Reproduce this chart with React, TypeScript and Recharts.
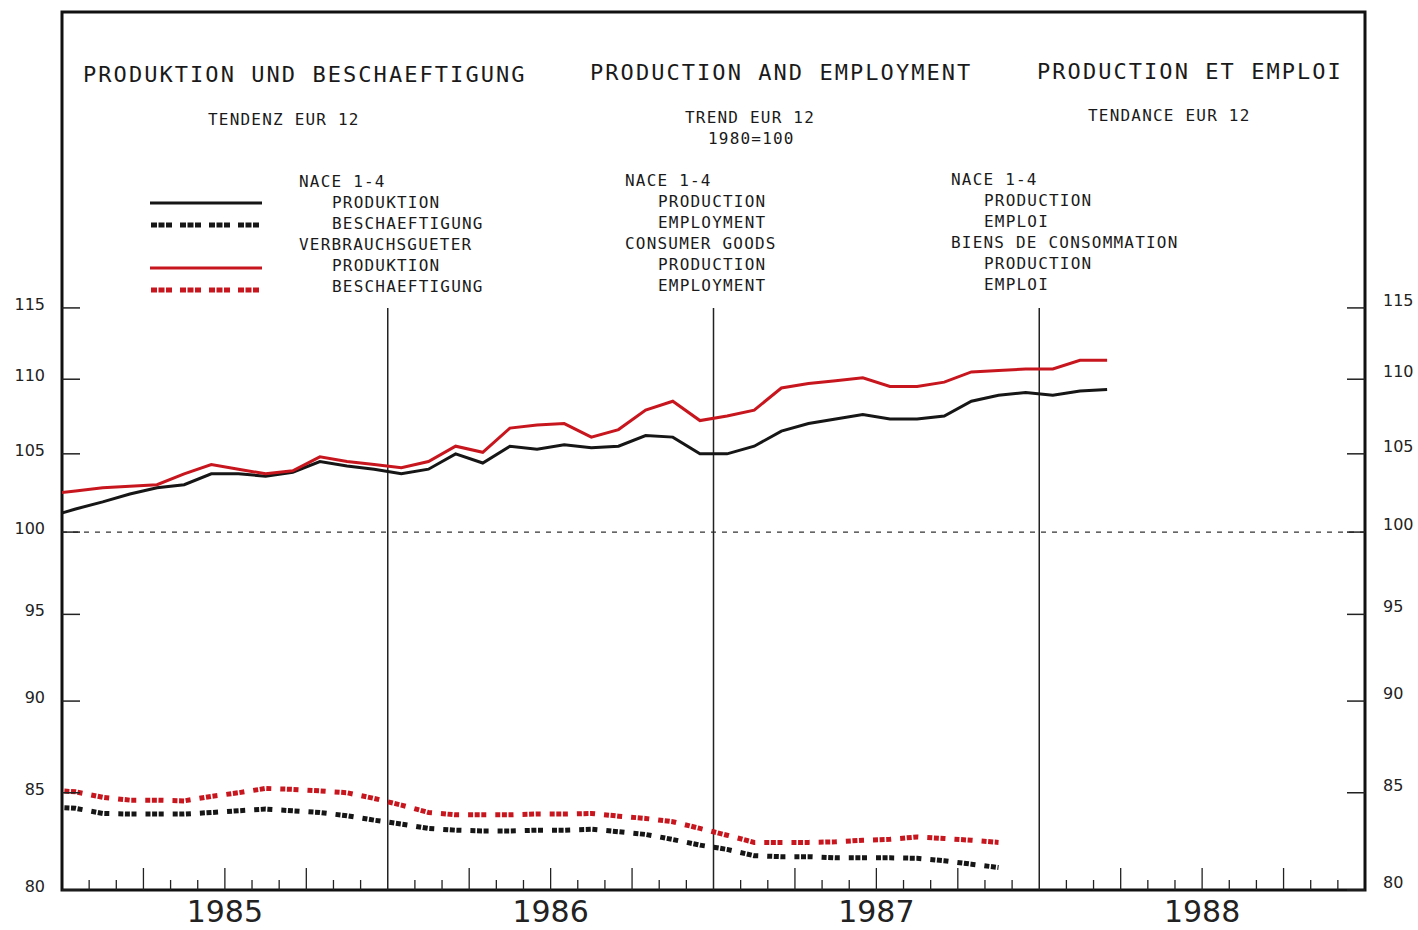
import React from 'react'
import {
  LineChart,
  Line,
  XAxis,
  YAxis,
  ReferenceLine,
  ReferenceArea,
} from 'recharts'

// tick labels
const years = ['1985', '1986', '1987', '1988']
const yearBreaks = [12, 24, 36]
const yTicks = [80, 85, 90, 95, 100, 105, 110, 115]

// trend, 1980=100, monthly from Dec 1984 to Mar 1988
const prodNace = [
  100.95, 101.45, 101.9, 102.4, 102.8, 103.0, 103.7, 103.7, 103.55, 103.8,
  104.5, 104.2, 104.0, 103.7, 104.0, 105.0, 104.4, 105.5, 105.3, 105.6,
  105.4, 105.5, 106.2, 106.1, 105.0, 105.0, 105.5, 106.5, 107.0, 107.3,
  107.6, 107.3, 107.3, 107.5, 108.5, 108.9, 109.1, 108.9, 109.2, 109.3,
]
const prodConsumer = [
  102.4, 102.6, 102.8, 102.9, 103.0, 103.7, 104.3, 104.0, 103.7, 103.9,
  104.8, 104.5, 104.3, 104.1, 104.5, 105.5, 105.1, 106.7, 106.9, 107.0,
  106.1, 106.6, 107.9, 108.5, 107.2, 107.5, 107.9, 109.4, 109.7, 109.9,
  110.1, 109.5, 109.5, 109.8, 110.5, 110.6, 110.7, 110.7, 111.3, 111.3,
]
// employment, monthly from Dec 1984 to Nov 1987
const emplNace = [
  84.25, 84.18, 83.91, 83.88, 83.88, 83.88, 83.96, 84.05, 84.14, 84.05,
  83.96, 83.79, 83.56, 83.36, 83.13, 83.04, 83.0, 83.0, 83.04, 83.04,
  83.09, 82.96, 82.82, 82.56, 82.27, 82.05, 81.73, 81.68, 81.68, 81.62,
  81.62, 81.62, 81.6, 81.47, 81.3, 81.13,
]
const emplConsumer = [
  85.15, 85.05, 84.76, 84.61, 84.61, 84.57, 84.81, 85.0, 85.23, 85.18,
  85.1, 85.0, 84.7, 84.35, 83.96, 83.84, 83.84, 83.84, 83.88, 83.88,
  83.91, 83.77, 83.65, 83.48, 83.13, 82.78, 82.41, 82.41, 82.41, 82.44,
  82.52, 82.57, 82.69, 82.61, 82.52, 82.41,
]

const BLACK = '#161616'
const RED = '#c8161e'
const EMPL_DASH = '5 1.6 5 1.6 5 9'
const MONO = '"DejaVu Sans Mono", monospace'

// x = months since Jan 1985, values sit mid-month
const data = prodNace.map((v, i) => ({
  t: i - 0.5,
  prodNace: v,
  prodConsumer: prodConsumer[i],
  emplNace: emplNace[i],
  emplConsumer: emplConsumer[i],
}))

const monthTicks = Array.from({ length: 49 }, (_, i) => i)

// month ticks point up into the plot, quarters are longer, year name under mid-year
function MonthTick(props: any) {
  const { x, y, payload } = props
  const v = payload.value
  const h = v % 12 === 0 ? 0 : v % 3 === 0 ? 22 : 10
  return (
    <g>
      {h > 0 && <line x1={x} x2={x} y1={y} y2={y - h} stroke="#222" strokeWidth={1.3} />}
      {v % 12 === 6 && (
        <text x={x} y={y + 32} textAnchor="middle" fontSize={30} fill="#222" fontFamily="DejaVu Sans">
          {years[(v - 6) / 12]}
        </text>
      )}
    </g>
  )
}

function LeftTick(props: any) {
  const { x, y, payload } = props
  return (
    <g>
      <line x1={x} x2={x + 18} y1={y} y2={y} stroke="#222" strokeWidth={1.5} />
      <text x={x - 17} y={y + 2} textAnchor="end" fontSize={16} fill="#222" fontFamily="DejaVu Sans">
        {payload.value}
      </text>
    </g>
  )
}

function RightTick(props: any) {
  const { x, y, payload } = props
  return (
    <g>
      <line x1={x - 18} x2={x} y1={y} y2={y} stroke="#222" strokeWidth={1.5} />
      <text x={x + 18} y={y - 2} textAnchor="start" fontSize={16} fill="#222" fontFamily="DejaVu Sans">
        {payload.value}
      </text>
    </g>
  )
}

const titles = [
  { x: 83, y: 82, s: 'PRODUKTION UND BESCHAEFTIGUNG' },
  { x: 590, y: 80, s: 'PRODUCTION AND EMPLOYMENT' },
  { x: 1037, y: 79, s: 'PRODUCTION ET EMPLOI' },
]
const subtitles = [
  { x: 208, y: 125, s: 'TENDENZ EUR 12' },
  { x: 685, y: 123, s: 'TREND EUR 12' },
  { x: 708, y: 144, s: '1980=100' },
  { x: 1088, y: 121, s: 'TENDANCE EUR 12' },
]
const legendCols = [
  { x: 299, y: 187, rows: ['NACE 1-4', '  PRODUKTION', '  BESCHAEFTIGUNG', 'VERBRAUCHSGUETER', '  PRODUKTION', '  BESCHAEFTIGUNG'] },
  { x: 625, y: 186, rows: ['NACE 1-4', '  PRODUCTION', '  EMPLOYMENT', 'CONSUMER GOODS', '  PRODUCTION', '  EMPLOYMENT'] },
  { x: 951, y: 185, rows: ['NACE 1-4', '  PRODUCTION', '  EMPLOI', 'BIENS DE CONSOMMATION', '  PRODUCTION', '  EMPLOI'] },
]

function Annotations() {
  return (
    <svg
      width={1418}
      height={930}
      style={{ position: 'absolute', left: 0, top: 0, pointerEvents: 'none' }}
    >
      {titles.map((t) => (
        <text key={t.s} x={t.x} y={t.y} fontFamily={MONO} fontSize={22} letterSpacing={2.05} fill="#1a1a1a">
          {t.s}
        </text>
      ))}
      {subtitles.map((t) => (
        <text key={t.s + t.x} x={t.x} y={t.y} fontFamily={MONO} fontSize={16} letterSpacing={1.2} fill="#1a1a1a">
          {t.s}
        </text>
      ))}
      {legendCols.map((c) =>
        c.rows.map((r, i) => (
          <text
            key={c.x + '-' + i}
            x={r.startsWith('  ') ? c.x + 33 : c.x}
            y={c.y + i * 21}
            fontFamily={MONO}
            fontSize={16}
            letterSpacing={1.2}
            fill="#1a1a1a"
          >
            {r.trim()}
          </text>
        )),
      )}
      <line x1={150} x2={262} y1={203} y2={203} stroke={BLACK} strokeWidth={3} />
      <line x1={151} x2={262} y1={225} y2={225} stroke={BLACK} strokeWidth={5} strokeDasharray="6 1.5 6 1.5 6 8" />
      <line x1={150} x2={262} y1={268} y2={268} stroke={RED} strokeWidth={3} />
      <line x1={151} x2={262} y1={290} y2={290} stroke={RED} strokeWidth={5} strokeDasharray="6 1.5 6 1.5 6 8" />
    </svg>
  )
}

export default function App() {
  return (
    <div style={{ position: 'absolute', left: 0, top: 0, width: 1418, height: 930, background: '#fff' }}>
      <LineChart width={1418} height={930} data={data} margin={{ top: 12, right: 0, bottom: 0, left: 0 }}>
        <XAxis
          type="number"
          dataKey="t"
          domain={[0, 48]}
          ticks={monthTicks}
          interval={0}
          allowDataOverflow
          height={40}
          axisLine={false}
          tickLine={false}
          tickSize={0}
          tickMargin={0}
          tick={(p: any) => <MonthTick {...p} />}
        />
        <YAxis
          type="number"
          scale="log"
          domain={[80, 138.3]}
          ticks={yTicks}
          interval={0}
          allowDataOverflow
          width={62}
          axisLine={false}
          tickLine={false}
          tickSize={0}
          tickMargin={0}
          tick={(p: any) => <LeftTick {...p} />}
        />
        <YAxis
          yAxisId="right"
          orientation="right"
          type="number"
          scale="log"
          domain={[80, 138.3]}
          ticks={yTicks}
          interval={0}
          allowDataOverflow
          width={53}
          axisLine={false}
          tickLine={false}
          tickSize={0}
          tickMargin={0}
          tick={(p: any) => <RightTick {...p} />}
        />
        <ReferenceLine y={100} stroke="#333" strokeWidth={1.2} strokeDasharray="5 6" />
        {yearBreaks.map((x) => (
          <ReferenceLine
            key={x}
            segment={[
              { x, y: 80 },
              { x, y: 115 },
            ]}
            stroke="#222"
            strokeWidth={1.5}
          />
        ))}
        <Line
          dataKey="emplNace"
          stroke={BLACK}
          strokeWidth={5}
          strokeDasharray={EMPL_DASH}
          strokeDashoffset={11.2}
          dot={false}
          isAnimationActive={false}
        />
        <Line
          dataKey="emplConsumer"
          stroke={RED}
          strokeWidth={5}
          strokeDasharray={EMPL_DASH}
          strokeDashoffset={11.2}
          dot={false}
          isAnimationActive={false}
        />
        <Line dataKey="prodNace" stroke={BLACK} strokeWidth={3} dot={false} isAnimationActive={false} />
        <Line dataKey="prodConsumer" stroke={RED} strokeWidth={3} dot={false} isAnimationActive={false} />
        <ReferenceArea x1={0} x2={48} y1={80} y2={138.3} fill="none" stroke="#111" strokeWidth={3} />
      </LineChart>
      <Annotations />
    </div>
  )
}
